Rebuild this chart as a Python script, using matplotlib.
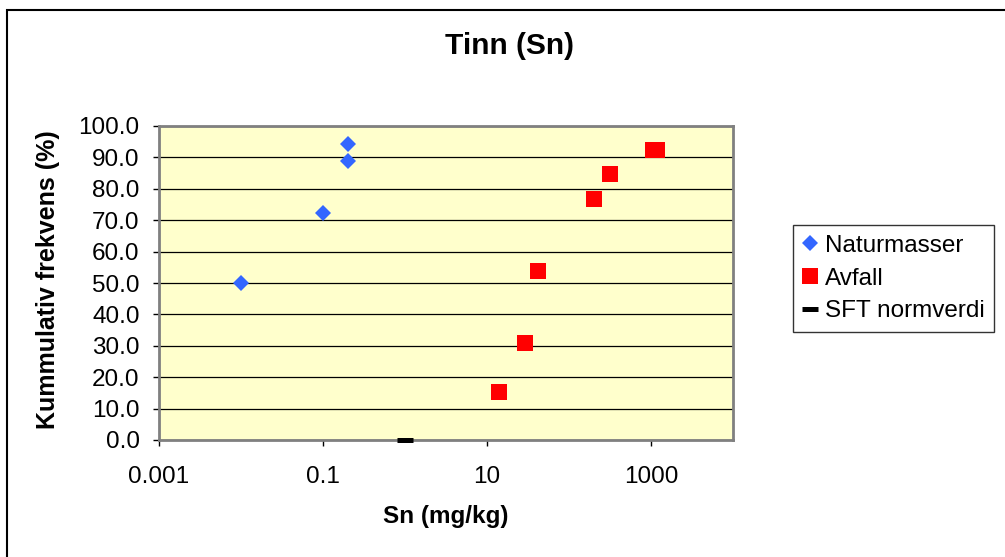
import matplotlib
matplotlib.use("Agg")
from matplotlib import pyplot as plt
from matplotlib.patches import Rectangle
from matplotlib.ticker import FixedLocator, FixedFormatter, NullLocator

plt.rcParams["font.family"] = ["Liberation Sans", "DejaVu Sans"]

# Cumulative frequency of tin (Sn) concentrations
natur_sn = [0.01, 0.1, 0.2, 0.2]
natur_freq = [50.0, 72.2, 88.9, 94.4]

avfall_sn = [14.0, 29.0, 42.0, 200.0, 316.0, 1070.0, 1175.0]
avfall_freq = [15.4, 30.8, 53.8, 76.9, 84.6, 92.3, 92.3]

sft_sn = [1.0]
sft_freq = [0.0]

x_ticks = [0.001, 0.1, 10, 1000]
x_tick_labels = ["0.001", "0.1", "10", "1000"]
y_ticks = list(range(0, 101, 10))

fig = plt.figure(figsize=(10.05, 5.57), dpi=100)
W, H = 1005, 557
ax = fig.add_axes([159 / W, 1 - 440 / H, (733 - 159) / W, (440 - 126) / H])
ax.set_facecolor("#FFFFCC")

ax.set_xscale("log")
ax.set_xlim(1e-3, 1e4)
ax.set_ylim(0, 100)

ax.xaxis.set_major_locator(FixedLocator(x_ticks))
ax.xaxis.set_major_formatter(FixedFormatter(x_tick_labels))
ax.xaxis.set_minor_locator(NullLocator())
ax.set_yticks(y_ticks)
ax.set_yticklabels([f"{v:.1f}" for v in y_ticks])

ax.yaxis.grid(True, color="black", linewidth=0.9)
ax.set_axisbelow(True)
for side in ax.spines.values():
    side.set_color("#808080")
    side.set_linewidth(2)
ax.tick_params(axis="both", direction="out", length=4, width=1,
               color="black", labelsize=17.5)
ax.tick_params(axis="x", pad=15)
ax.tick_params(axis="y", pad=10)

ax.plot(natur_sn, natur_freq, linestyle="none", marker="D", markersize=7.8,
        color="#3366FF", markeredgewidth=0, label="Naturmasser", zorder=3)
ax.plot(avfall_sn, avfall_freq, linestyle="none", marker="s", markersize=11.5,
        color="#FF0000", markeredgewidth=0, label="Avfall", zorder=3)
ax.plot(sft_sn, sft_freq, linestyle="none", marker="_", markersize=11.5,
        markeredgewidth=3.6, color="black", label="SFT normverdi",
        clip_on=False, zorder=4)

fig.text(509 / W, 1 - 46 / H, "Tinn (Sn)", ha="center", va="center",
         fontsize=21.5, fontweight="bold")
fig.text(446 / W, 1 - 516 / H, "Sn (mg/kg)", ha="center", va="center",
         fontsize=17.5, fontweight="bold")
fig.text(48 / W, 1 - 280 / H, "Kummulativ frekvens (%)", ha="center",
         va="center", rotation=90, fontsize=18, fontweight="bold")

leg = fig.legend(loc="center left", bbox_to_anchor=(793 / W, 1 - 278.5 / H),
                 fontsize=17.5, frameon=True, fancybox=False, handlelength=0.6,
                 handletextpad=0.3, borderpad=0.4, labelspacing=0.45,
                 borderaxespad=0)
leg.get_frame().set_edgecolor("black")
leg.get_frame().set_linewidth(1)

# outer chart border, open to the right and bottom
fig.patches.append(Rectangle((7 / W, -0.05), 1.1, 1 - 10 / H + 0.05,
                             transform=fig.transFigure, fill=False,
                             edgecolor="black", linewidth=1.5))

fig.savefig("out.png", dpi=100)
